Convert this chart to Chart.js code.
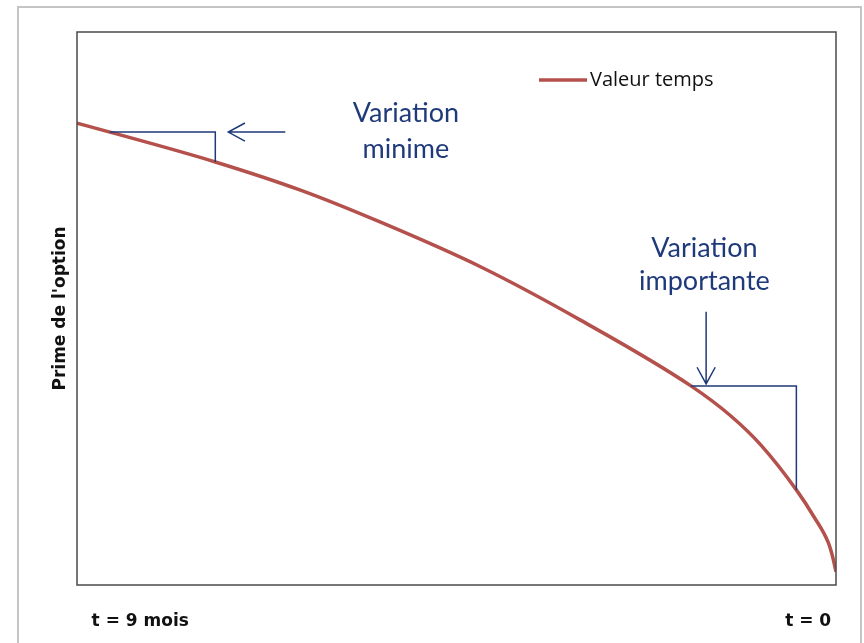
<!DOCTYPE html>
<html>
<head>
<meta charset="utf-8">
<script src="https://cdn.jsdelivr.net/npm/chart.js@4.4.1/dist/chart.umd.min.js"></script>
<style>
  html, body { margin: 0; padding: 0; background: #fff; overflow: hidden; }
  #frame { position: absolute; left: 17px; top: 6px; width: 841px; height: 660px; border: 2px solid #c4c4c4; border-bottom: none; }
  #wrap { position: absolute; left: 0; top: 0; width: 864px; height: 643px; }
</style>
</head>
<body>
<div id="frame"></div>
<div id="wrap"><canvas id="chart" width="864" height="643"></canvas></div>
<script>
// time value of an option - decay from t = 9 mois down to t = 0
const months  = [0, 0.39, 1.64, 2.65, 3.60, 4.79, 5.97, 7.28, 7.75, 8.11, 8.53, 8.74, 8.91, 8.96, 9];
const premium = [83.5, 81.9, 76.5, 71.4, 65.6, 57.5, 47.9, 36.0, 30.6, 25.3, 17.2, 12.3, 7.6, 5.1, 2.4];
const seriesName = 'Valeur temps';
// the two labels under the axis, placed near each end
const tickPositions = [0.75, 8.67];
const tickLabels = ['t = 9 mois', 't = 0'];
const yTitle = "Prime de l'option";

// brackets: index of curve point where horizontal starts, index where vertical drops
const brackets = [[1, 2], [7, 10]];
// arrows in data units: [xFrom, yFrom, xTo, yTo]
const arrows = [
    [2.47, premium[1], 1.77, premium[1]],
    [7.46, 49.4, 7.46, premium[7]]
];
// notes: [x center, y baseline, text]
const notes = [
    [3.9, 83.7, 'Variation'],
    [3.9, 77.2, 'minime'],
    [7.44, 59.3, 'Variation'],
    [7.44, 53.3, 'importante']
];

const curveColor = '#b4514c';
const noteColor = '#1f3a7a';

const annotations = {
    id: 'annotations',
    afterDatasetsDraw(chart) {
        const c = chart.ctx, xs = chart.scales.x, ys = chart.scales.y, a = chart.chartArea;
        c.save();
        // plot frame
        c.strokeStyle = '#4a4a4a';
        c.lineWidth = 1.5;
        c.strokeRect(a.left, a.top, a.right - a.left, a.bottom - a.top);

        c.strokeStyle = noteColor;
        c.lineWidth = 1.5;
        brackets.forEach(function(b) {
            var x0 = xs.getPixelForValue(months[b[0]]);
            var y0 = ys.getPixelForValue(premium[b[0]]);
            var x1 = xs.getPixelForValue(months[b[1]]);
            var y1 = ys.getPixelForValue(premium[b[1]]);
            c.beginPath();
            c.moveTo(x0, y0);
            c.lineTo(x1, y0);
            c.lineTo(x1, y1);
            c.stroke();
        });
        arrows.forEach(function(ar) {
            var x0 = xs.getPixelForValue(ar[0]), y0 = ys.getPixelForValue(ar[1]);
            var x1 = xs.getPixelForValue(ar[2]), y1 = ys.getPixelForValue(ar[3]);
            var ang = Math.atan2(y1 - y0, x1 - x0);
            var tx = x1 - Math.cos(ang) * 2, ty = y1 - Math.sin(ang) * 2;
            c.beginPath();
            c.moveTo(x0, y0);
            c.lineTo(tx, ty);
            c.moveTo(tx - 19 * Math.cos(ang - 0.5), ty - 19 * Math.sin(ang - 0.5));
            c.lineTo(tx, ty);
            c.lineTo(tx - 19 * Math.cos(ang + 0.5), ty - 19 * Math.sin(ang + 0.5));
            c.stroke();
        });
        c.fillStyle = noteColor;
        c.font = '27px Lato, sans-serif';
        c.textAlign = 'center';
        c.textBaseline = 'alphabetic';
        notes.forEach(function(n) {
            c.fillText(n[2], xs.getPixelForValue(n[0]), ys.getPixelForValue(n[1]));
        });

        // legend inside the plot, top right
        c.strokeStyle = curveColor;
        c.lineWidth = 3.5;
        c.beginPath();
        c.moveTo(a.left + 462, a.top + 48);
        c.lineTo(a.left + 510, a.top + 48);
        c.stroke();
        c.fillStyle = '#111';
        c.font = '20px "Open Sans", sans-serif';
        c.textAlign = 'left';
        c.textBaseline = 'middle';
        c.fillText(seriesName, a.left + 513, a.top + 48);
        c.restore();
    }
};

new Chart(document.getElementById('chart'), {
    type: 'line',
    data: {
        datasets: [{
            label: seriesName,
            data: months.map(function(m, i) { return { x: m, y: premium[i] }; }),
            borderColor: curveColor,
            borderWidth: 3.5,
            pointRadius: 0,
            cubicInterpolationMode: 'monotone',
            fill: false
        }]
    },
    options: {
        responsive: false,
        animation: false,
        layout: { padding: { left: 0, top: 32, right: 28, bottom: 0 } },
        plugins: { legend: { display: false }, tooltip: { enabled: false } },
        scales: {
            x: {
                type: 'linear',
                min: 0,
                max: 9,
                grid: { display: false, drawTicks: false },
                border: { display: false },
                afterBuildTicks: function(s) {
                    s.ticks = tickPositions.map(function(v) { return { value: v }; });
                },
                afterFit: function(s) { s.height = 58; },
                ticks: {
                    padding: 26,
                    maxRotation: 0,
                    autoSkip: false,
                    color: '#111',
                    font: { family: 'DejaVu Sans', size: 17, weight: 'bold' },
                    callback: function(v, i) { return tickLabels[i]; }
                }
            },
            y: {
                min: 0,
                max: 100,
                grid: { display: false, drawTicks: false },
                border: { display: false },
                ticks: { display: false },
                afterFit: function(s) { s.width = 77; },
                title: {
                    display: true,
                    text: yTitle,
                    color: '#111',
                    font: { family: 'DejaVu Sans', size: 17, weight: 'bold' },
                    padding: { top: 50, bottom: 0 }
                }
            }
        }
    },
    plugins: [annotations]
});
</script>
</body>
</html>
